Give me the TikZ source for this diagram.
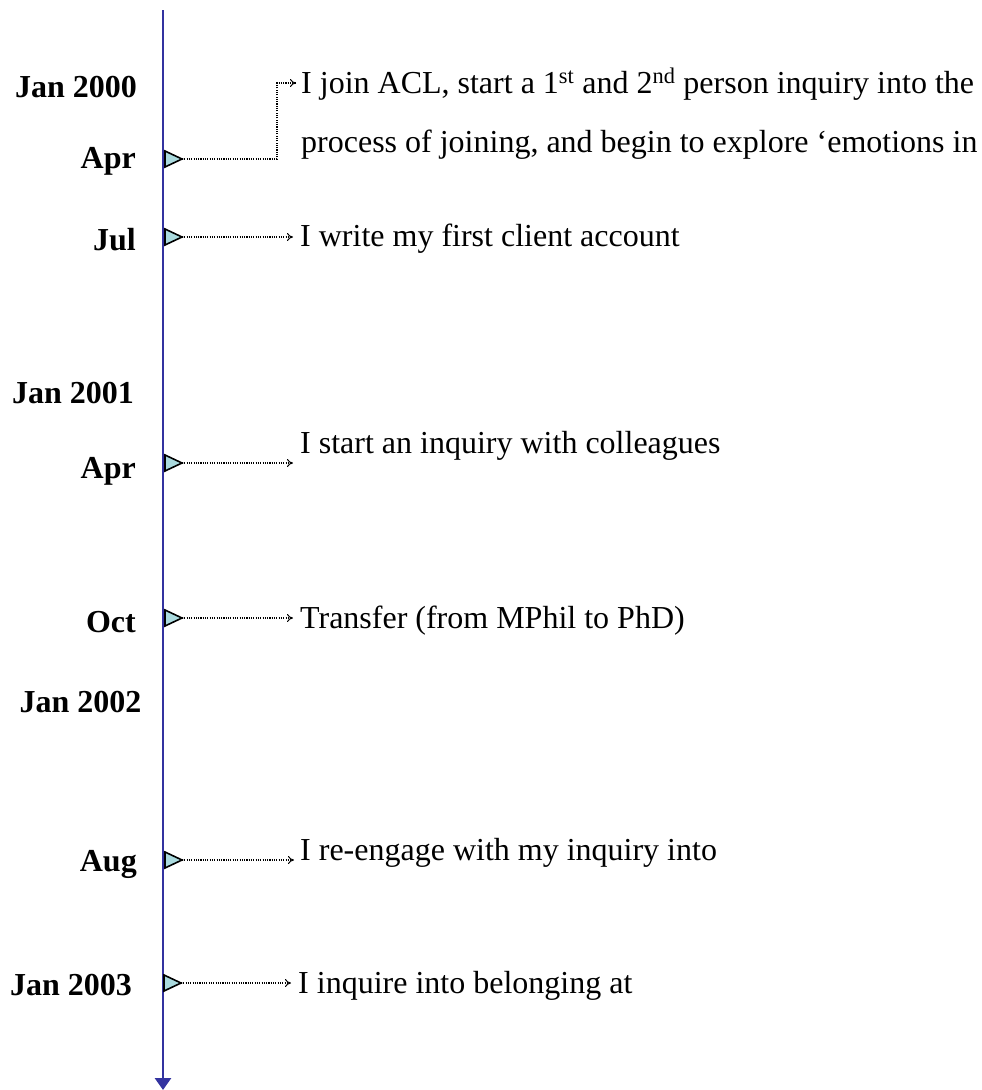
\documentclass[tikz,border=0pt]{standalone}
\usepackage{fontspec}
\setmainfont{Liberation Serif}
\usetikzlibrary{arrows.meta}
\definecolor{axisblue}{RGB}{51,51,160}
\definecolor{markfill}{RGB}{170,218,222}
\begin{document}
\begin{tikzpicture}[x=1pt,y=-1pt,
  lbl/.style={font=\fontsize{32}{38}\selectfont\bfseries, anchor=base east, inner sep=0pt},
  evt/.style={font=\fontsize{32}{59}\selectfont, anchor=base west, inner sep=0pt, align=left},
  markshape/.style={draw=black, fill=markfill, line width=1.6pt, line join=miter},
  conn/.style={draw=black, line width=1.1pt, dash pattern=on 1.1pt off 1.2pt,
    -{To[length=6pt,width=8pt,line width=1pt]}},
  axis/.style={draw=axisblue, line width=2.8pt, -{Triangle[length=12pt,width=16pt]}}]
\useasboundingbox (0,0) rectangle (982,1090);

% axis
\coordinate (top) at (163,10);
\coordinate (bottom) at (163,1090);
\draw[axis] (top) -- (bottom);

% date labels
\node[lbl] (d1) at (137,97) {Jan 2000};
\node[lbl] (d2) at (136,168) {Apr};
\node[lbl] (d3) at (136,250) {Jul};
\node[lbl] (d4) at (134,403) {Jan 2001};
\node[lbl] (d5) at (136,478) {Apr};
\node[lbl] (d6) at (136,632) {Oct};
\node[lbl] (d7) at (141.5,712) {Jan 2002};
\node[lbl] (d8) at (137,871) {Aug};
\node[lbl] (d9) at (132,995) {Jan 2003};

% markers (tips)
\coordinate (t1) at (182,159);
\coordinate (t2) at (182,237);
\coordinate (t3) at (182,463);
\coordinate (t4) at (182,618);
\coordinate (t5) at (182,860);
\coordinate (t6) at (181,983);
\foreach \t in {t1,t2,t3,t4,t5,t6}{
  \draw[markshape] (\t) -- ++(-17,-8) -- ++(0,16) -- cycle;
}

% events
\node[evt] (e1) at (301,152) {I join ACL, start a 1\textsuperscript{st} and 2\textsuperscript{nd} person inquiry into the\\process of joining, and begin to explore ‘emotions in};
\node[evt] (e2) at (300,246) {I write my first client account};
\node[evt] (e3) at (300,453) {I start an inquiry with colleagues};
\node[evt] (e4) at (300,628) {Transfer (from MPhil to PhD)};
\node[evt] (e5) at (300,860) {I re-engage with my inquiry into};
\node[evt] (e6) at (298,993) {I inquire into belonging at};

% arrow end points
\coordinate (a1) at (296,83);
\coordinate (a2) at (293,237);
\coordinate (a3) at (293,463);
\coordinate (a4) at (293,618);
\coordinate (a5) at (294,860);
\coordinate (a6) at (291,983);

% connectors
\draw[conn] (t1) -| ([xshift=-19pt]a1) -- (a1);
\draw[conn] (t2) -- (a2);
\draw[conn] (t3) -- (a3);
\draw[conn] (t4) -- (a4);
\draw[conn] (t5) -- (a5);
\draw[conn] (t6) -- (a6);
\end{tikzpicture}
\end{document}
